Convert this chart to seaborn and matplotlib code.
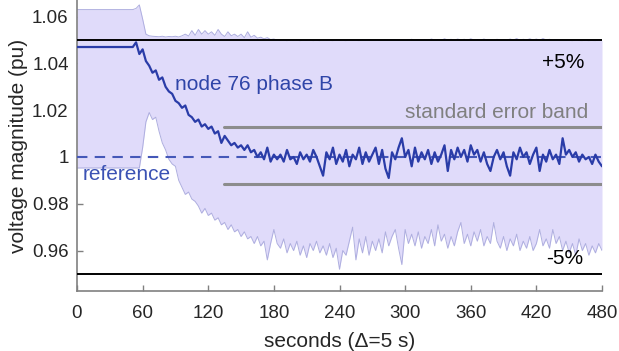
import numpy as np
import pandas as pd
import matplotlib
matplotlib.use("Agg")
import matplotlib.pyplot as plt
import seaborn as sns

# ---------------- data ----------------
step = 3  # seconds between samples
node_v = [1.047] * 18 + [
    1.049, 1.044, 1.046, 1.041, 1.039, 1.036, 1.037, 1.033, 1.034, 1.030,
    1.028, 1.027, 1.024, 1.023, 1.021, 1.022, 1.018, 1.017, 1.015, 1.016,
    1.013, 1.014, 1.012, 1.013, 1.010, 1.011, 1.006, 1.009, 1.007, 1.005,
    1.006, 1.004, 1.005, 1.003, 1.005, 1.002, 1.003, 1.000, 1.002, 0.999,
    1.004, 0.998, 1.001, 0.999,
    1.001, 0.998, 1.003, 0.999, 1.000, 0.997, 1.002, 0.999, 1.001, 0.998, 1.003,
    1.000, 0.996, 0.992, 1.002, 0.999, 1.004, 0.997, 1.001, 0.998, 1.003, 0.996,
    1.001, 0.999, 1.004, 0.997, 1.002, 0.998, 1.001, 1.004, 0.997, 1.003, 0.995,
    0.991, 1.002, 0.999, 1.004, 1.008, 1.000, 1.003, 0.996, 1.004, 0.998, 1.002,
    0.999, 1.003, 0.997, 1.002, 0.998, 1.001, 1.005, 0.994, 1.003, 0.999, 1.004,
    1.000, 1.003, 0.998, 1.005, 1.001, 1.003, 0.998, 1.002, 0.997, 0.994, 1.000,
    1.003, 0.999, 1.002, 0.996, 0.992, 1.002, 0.999, 1.004, 1.000, 1.002, 0.997,
    1.001, 1.004, 0.994, 1.001, 0.998, 1.003, 0.999, 1.001, 0.997, 1.008, 1.001,
    1.003, 1.000, 1.002, 0.998, 1.001, 0.999, 1.000, 0.997, 1.001, 0.998, 0.996,
]
upper_v = [1.063] * 18 + [
    1.0635, 1.065, 1.059, 1.0525, 1.0518, 1.0516, 1.0515, 1.0514, 1.0516, 1.0513,
    1.0515, 1.0514, 1.0516, 1.0513, 1.0518, 1.0525, 1.0517, 1.054, 1.052, 1.0545,
    1.0525, 1.054, 1.0525, 1.0535, 1.052, 1.0545, 1.0525, 1.0515, 1.0535, 1.0518,
    1.0525, 1.0515, 1.0525, 1.051, 1.0535, 1.0512, 1.052, 1.0508, 1.0512, 1.0505,
    1.051, 1.0502, 1.0504, 1.0499,
    1.0498, 1.0500, 1.0497, 1.0499, 1.0498, 1.0500, 1.0497, 1.0499, 1.0498, 1.0501, 1.0497,
    1.0499, 1.0497, 1.0500, 1.0498, 1.0499, 1.0497, 1.0500, 1.0498, 1.0499, 1.0497, 1.0500,
    1.0498, 1.0499, 1.0497, 1.0500, 1.0498, 1.0501, 1.0499, 1.0500, 1.0498, 1.0499, 1.0500,
    1.0499, 1.0501, 1.0500, 1.0498, 1.0502, 1.0499, 1.0500, 1.0503, 1.0499, 1.0501, 1.0500,
    1.0502, 1.0499, 1.0504, 1.0500, 1.0502, 1.0499, 1.0505, 1.0500, 1.0503, 1.0499, 1.0504,
    1.0500, 1.0503, 1.0499, 1.0505, 1.0500, 1.0502, 1.0499, 1.0504, 1.0500, 1.0501, 1.0499,
    1.0503, 1.0500, 1.0502, 1.0499, 1.0504, 1.0500, 1.0506, 1.0499, 1.0503, 1.0500, 1.0505,
    1.0500, 1.0504, 1.0499, 1.0506, 1.0500, 1.0503, 1.0499, 1.0501, 1.0498, 1.0500, 1.0498,
    1.0499, 1.0497, 1.0499, 1.0498, 1.0497, 1.0499, 1.0497, 1.0498, 1.0497, 1.0499, 1.0498,
]
lower_v = [0.9953] * 20 + [
    1.004, 1.015, 1.019, 1.016, 1.017, 1.011, 1.006, 1.003, 0.999, 0.997,
    0.996, 0.990, 0.987, 0.984, 0.985, 0.982, 0.981, 0.979, 0.976, 0.978,
    0.975, 0.976, 0.973, 0.974, 0.971, 0.972, 0.969, 0.971, 0.968, 0.969,
    0.966, 0.968, 0.965, 0.966, 0.963, 0.966, 0.962, 0.964, 0.956, 0.963,
    0.969, 0.963,
    0.961, 0.965, 0.959, 0.963, 0.960, 0.964, 0.958, 0.962, 0.957, 0.963, 0.960,
    0.964, 0.959, 0.962, 0.958, 0.963, 0.957, 0.961, 0.952, 0.960, 0.958, 0.964,
    0.970, 0.956, 0.965, 0.959, 0.966, 0.958, 0.964, 0.960, 0.965, 0.959, 0.968,
    0.962, 0.966, 0.969, 0.961, 0.954, 0.969, 0.963, 0.967, 0.962, 0.968, 0.961,
    0.966, 0.963, 0.969, 0.962, 0.971, 0.964, 0.967, 0.961, 0.966, 0.962, 0.968,
    0.972, 0.963, 0.967, 0.962, 0.968, 0.964, 0.969, 0.962, 0.966, 0.963, 0.972,
    0.964, 0.961, 0.966, 0.960, 0.965, 0.962, 0.967, 0.960, 0.964, 0.961, 0.966,
    0.960, 0.963, 0.969, 0.962, 0.965, 0.961, 0.969, 0.963, 0.966, 0.960, 0.964,
    0.959, 0.963, 0.958, 0.965, 0.960, 0.963, 0.958, 0.962, 0.959, 0.963, 0.960,
]
limit_levels = [1.05, 0.95]
reference_level = 1.0
se_band = [1.0128, 0.9885]
se_band_start = 134
x_ticks = [0, 60, 120, 180, 240, 300, 360, 420, 480]
y_ticks = [0.96, 0.98, 1.0, 1.02, 1.04, 1.06]
y_ticklabels = ["0.96", "0.98", "1", "1.02", "1.04", "1.06"]

t = np.arange(len(node_v)) * step
df = pd.DataFrame({"t": t, "node": node_v, "upper": upper_v, "lower": lower_v})

# ---------------- plotting ----------------
sns.set_style("white")
plt.rcParams["font.family"] = ["Liberation Sans", "DejaVu Sans"]

fig = plt.figure(figsize=(6.19, 3.51), dpi=100)
ax = fig.add_axes([77 / 619, 60 / 351, 525 / 619, 291 / 351])

fill_c = "#e0dbfa"
edge_c = "#aeaedf"
blue = "#2a3ca8"
ax.fill_between(df["t"], df["lower"], df["upper"], color=fill_c, lw=0, zorder=1)
sns.lineplot(data=df, x="t", y="upper", ax=ax, color=edge_c, lw=0.7, zorder=2)
sns.lineplot(data=df, x="t", y="lower", ax=ax, color=edge_c, lw=0.7, zorder=2)

for lv in limit_levels:
    ax.axhline(lv, color="black", lw=1.4, zorder=3)
for lv in se_band:
    ax.plot([se_band_start, 480], [lv, lv], color="#8c8c8c", lw=2.2, zorder=3)
ax.axhline(reference_level, color="#4558b8", lw=1.5, ls=(0, (5, 3.5)), zorder=4)
sns.lineplot(data=df, x="t", y="node", ax=ax, color=blue, lw=1.6, zorder=5)

ax.set_xlim(0, 480)
ax.set_ylim(0.9427, 1.0671)
ax.set_xticks(x_ticks)
ax.set_yticks(y_ticks)
ax.set_yticklabels(y_ticklabels)
ax.tick_params(axis="both", which="major", direction="in", length=4, width=1,
               color="#808080", labelsize=13.5, labelcolor="#262626",
               bottom=True, left=True, top=False, right=False)
ax.tick_params(axis="x", pad=10)
ax.tick_params(axis="y", pad=6)
for s in ["top", "right"]:
    ax.spines[s].set_visible(False)
for s in ["left", "bottom"]:
    ax.spines[s].set_color("#808080")
    ax.spines[s].set_linewidth(1.2)
ax.set_xlabel("seconds (\u0394=5 s)", fontsize=15, color="#262626", labelpad=7)
ax.set_ylabel("voltage magnitude (pu)", fontsize=15, color="#262626", labelpad=3)

ax.text(89.5, 1.0308, "node 76 phase B", color="#2f45a8", fontsize=15,
        ha="left", va="center", zorder=6)
ax.text(5.5, 0.9927, "reference", color="#3b52b4", fontsize=15,
        ha="left", va="center", zorder=6)
ax.text(467, 1.0188, "standard error band", color="#808080", fontsize=15,
        ha="right", va="center", zorder=6)
ax.text(464, 1.0405, "+5%", color="black", fontsize=15, ha="right", va="center", zorder=6)
ax.text(463, 0.9568, "-5%", color="black", fontsize=15, ha="right", va="center", zorder=6)

fig.savefig("out.png", dpi=100)
